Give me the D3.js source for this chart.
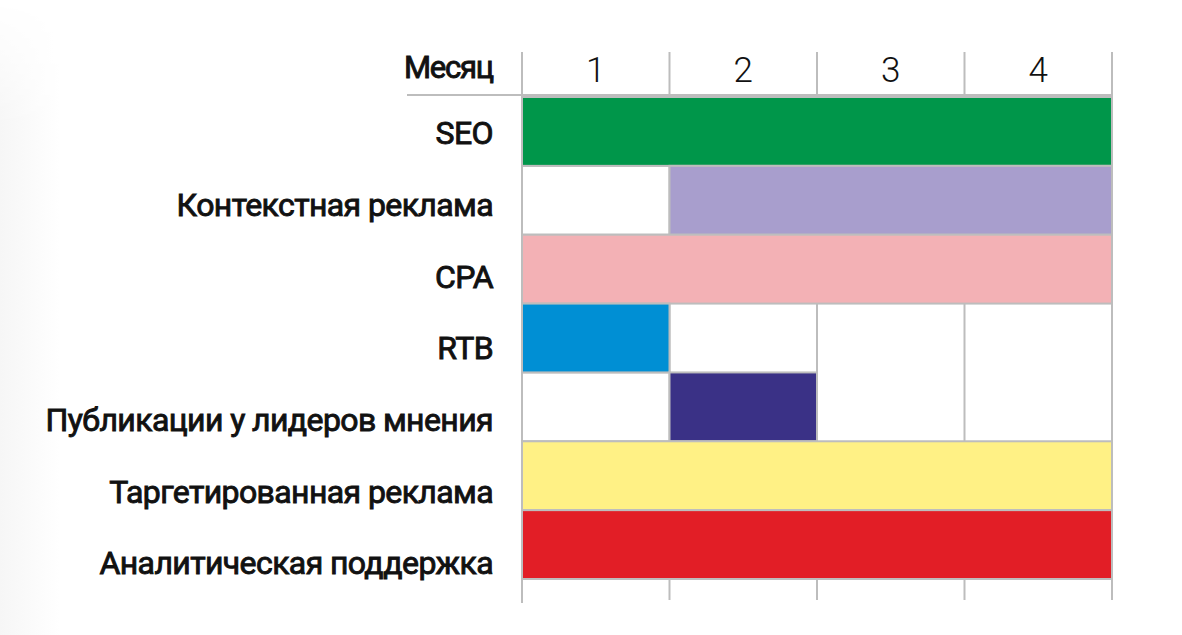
<!DOCTYPE html>
<html><head><meta charset="utf-8">
<script src="https://cdn.jsdelivr.net/npm/d3@7"></script>
<style>body{margin:0;background:#fff}svg{display:block}</style>
</head><body>
<svg id="c" width="1182" height="635"></svg>
<script>
const months = ["1", "2", "3", "4"];
const tasks = ["SEO", "Контекстная реклама", "CPA", "RTB", "Публикации у лидеров мнения", "Таргетированная реклама", "Аналитическая поддержка"];
const starts = [0, 1, 0, 0, 1, 0, 0];
const ends = [4, 4, 4, 1, 2, 4, 4];
const colors = ["#00964a", "#a89ecd", "#f3b1b5", "#008fd4", "#3a3186", "#fff185", "#e21e26"];
const headerLabel = "Месяц";

const svg = d3.select("#c");
const gridColor = "#bdbdbd";
const labelFont = "Roboto";
const x = d3.scaleLinear().domain([0, months.length]).range([522, 1112]);
const y = d3.scaleBand().domain(tasks).range([97, 579]).padding(0);
const yLab = d3.scalePoint().domain(tasks).range([133, 563]);

// faint left shading
const defs = svg.append("defs");
const g = defs.append("linearGradient").attr("id", "sh").attr("x1", 0).attr("x2", 1);
g.append("stop").attr("offset", 0).attr("stop-color", "#f6f6f6");
g.append("stop").attr("offset", 1).attr("stop-color", "#ffffff");
const mg = defs.append("linearGradient").attr("id", "fade").attr("x1", 0).attr("x2", 0).attr("y1", 0).attr("y2", 1);
mg.append("stop").attr("offset", 0).attr("stop-color", "#000");
mg.append("stop").attr("offset", 0.2).attr("stop-color", "#fff");
defs.append("mask").attr("id", "m").append("rect").attr("x", 0).attr("y", 0).attr("width", 60).attr("height", 635).attr("fill", "url(#fade)");
svg.append("rect").attr("x", 0).attr("y", 0).attr("width", 60).attr("height", 635).attr("fill", "url(#sh)").attr("mask", "url(#m)");

// vertical grid lines
svg.append("g").selectAll("line").data(d3.range(months.length + 1)).join("line")
  .attr("x1", d => x(d)).attr("x2", d => x(d))
  .attr("y1", 52).attr("y2", d => d === 0 ? 603 : 600)
  .attr("stroke", gridColor).attr("stroke-width", 2);

// header line
svg.append("line").attr("x1", 407).attr("x2", x(months.length)).attr("y1", 95).attr("y2", 95)
  .attr("stroke", gridColor).attr("stroke-width", 2);

// month labels
svg.append("g").selectAll("text").data(months).join("text")
  .attr("x", (d, i) => x(i + 0.5)).attr("y", 82)
  .attr("text-anchor", "middle")
  .attr("font-family", "Roboto").attr("font-weight", 300).attr("font-size", 35)
  .attr("fill", "#111").text(d => d);

svg.append("text").attr("x", 493).attr("y", 78).attr("text-anchor", "end")
  .attr("font-family", labelFont).attr("font-weight", 400).attr("font-size", 31)
  .attr("letter-spacing", -1.2)
  .attr("stroke", "#111").attr("stroke-width", 0.9)
  .attr("fill", "#111").text(headerLabel);

// white offset boxes
svg.append("g").selectAll("rect").data(tasks.filter((t, i) => starts[i] > 0)).join("rect")
  .attr("x", x(0)).attr("y", d => y(d))
  .attr("width", d => x(starts[tasks.indexOf(d)]) - x(0))
  .attr("height", y.bandwidth())
  .attr("fill", "#fff").attr("stroke", gridColor).attr("stroke-width", 2);

// bars
svg.append("g").selectAll("rect").data(tasks).join("rect")
  .attr("x", (d, i) => x(starts[i]))
  .attr("y", d => y(d))
  .attr("width", (d, i) => x(ends[i]) - x(starts[i]))
  .attr("height", y.bandwidth())
  .attr("fill", (d, i) => colors[i])
  .attr("stroke", gridColor).attr("stroke-width", 2);

// task labels
svg.append("g").selectAll("text").data(tasks).join("text")
  .attr("x", 493).attr("y", d => yLab(d))
  .attr("dy", "0.35em")
  .attr("text-anchor", "end")
  .attr("font-family", labelFont).attr("font-weight", 400).attr("font-size", 32)
  .attr("letter-spacing", -0.6)
  .attr("stroke", "#111").attr("stroke-width", 0.9)
  .attr("fill", "#111").text(d => d);
</script>
</body></html>
